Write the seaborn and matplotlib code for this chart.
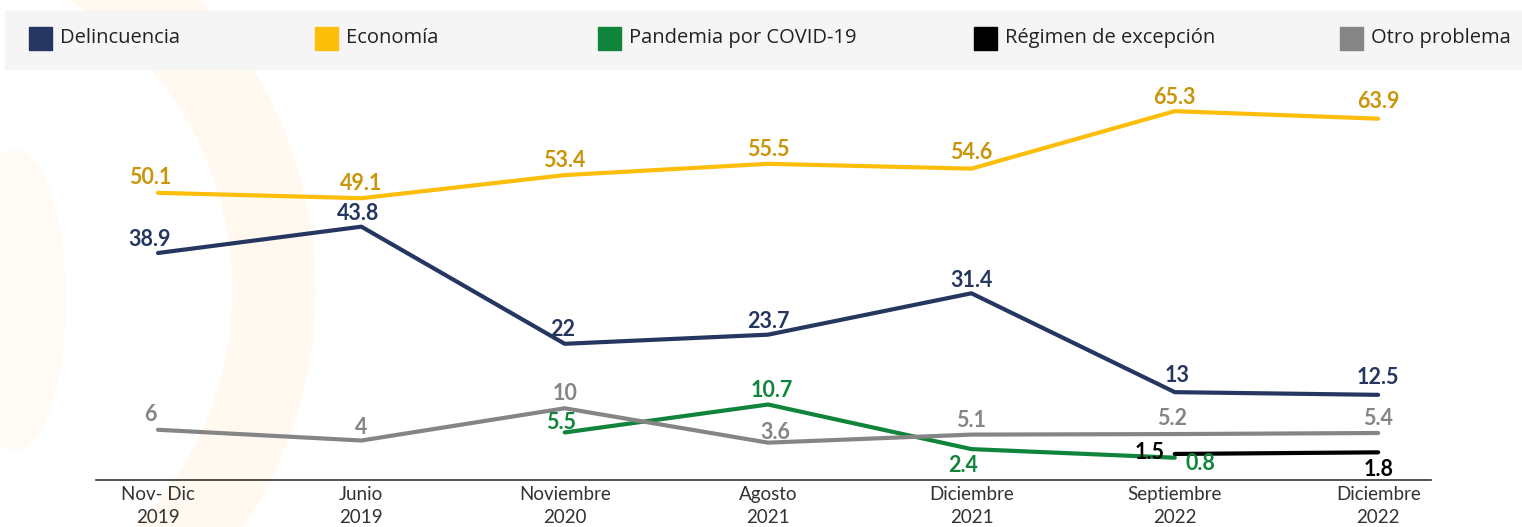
import pandas as pd
import matplotlib
matplotlib.use("Agg")
import matplotlib.pyplot as plt
from matplotlib.patches import Rectangle, Wedge, Ellipse
from matplotlib.transforms import IdentityTransform
import seaborn as sns

# data
periods = ["Nov- Dic\n2019", "Junio\n2019", "Noviembre\n2020", "Agosto\n2021",
           "Diciembre\n2021", "Septiembre\n2022", "Diciembre\n2022"]
delincuencia = [38.9, 43.8, 22, 23.7, 31.4, 13, 12.5]
economia = [50.1, 49.1, 53.4, 55.5, 54.6, 65.3, 63.9]
pandemia = [None, None, 5.5, 10.7, 2.4, 0.8, None]
regimen = [None, None, None, None, None, 1.5, 1.8]
otro = [6, 4, 10, 3.6, 5.1, 5.2, 5.4]
series_names = ["Delincuencia", "Economía", "Pandemia por COVID-19",
                "Régimen de excepción", "Otro problema"]

line_colors = ["#253760", "#FDBE0A", "#10843A", "#000000", "#858585"]
label_colors = ["#253760", "#C9950A", "#10843A", "#000000", "#858585"]

# label offsets in pixels (dx, dy)
offsets = {
    "Delincuencia": [(-8, 14), (-3, 13), (-2, 14), (0, 13), (0, 13), (2, 17), (0, 17)],
    "Economía": [(-8, 15), (0, 15), (0, 15), (0, 14), (0, 16), (0, 14), (0, 17)],
    "Pandemia por COVID-19": [None, None, (-4, 10), (4, 14), (-8, -16), (26, -6), None],
    "Régimen de excepción": [None] * 5 + [(-25, 1), (0, -17)],
    "Otro problema": [(-8, 15), (0, 13), (0, 15), (7, 10), (0, 14), (-3, 16), (0, 14)],
}

all_values = [delincuencia, economia, pandemia, regimen, otro]
rows = []
for name, vals in zip(series_names, all_values):
    for i, v in enumerate(vals):
        if v is not None:
            rows.append({"x": i, "valor": v, "serie": name})
df = pd.DataFrame(rows)

sns.set_style("white")
plt.rcParams["font.family"] = ["Lato", "DejaVu Sans"]

fig = plt.figure(figsize=(15.22, 5.27), dpi=100)
H = 527

# faint watermark behind the chart
fig.patches.append(Wedge((-108, H - 290), 423, -90, 90, width=82,
                         color="#FFF9F0", transform=IdentityTransform(), zorder=-2))
fig.patches.append(Ellipse((15, H - 300), 100, 300, color="#FFFAF3",
                           transform=IdentityTransform(), zorder=-2))

ax = fig.add_axes([96 / 1522, 1 - 480 / 527, (1431 - 96) / 1522, (480 - 80) / 527])
ax.patch.set_alpha(0)

sns.lineplot(data=df, x="x", y="valor", hue="serie", hue_order=series_names,
             palette=dict(zip(series_names, line_colors)), linewidth=3,
             legend=False, ax=ax, sort=True)

for name, vals, col in zip(series_names, all_values, label_colors):
    for i, v in enumerate(vals):
        if v is None:
            continue
        dx, dy = offsets[name][i]
        ax.annotate(f"{v:g}", (i, v), xytext=(dx, dy), textcoords="offset pixels",
                    ha="center", va="center", fontsize=15.5, fontweight="bold",
                    color=col)

ax.set_xlim(-0.305, 6.26)
ax.set_ylim(-3.35, 71.1)
ax.set_xticks(range(len(periods)))
ax.set_xticklabels(periods, fontsize=13.5, color="#333333", linespacing=1.45)
ax.tick_params(axis="x", length=0, pad=4)
ax.set_yticks([])
ax.set_xlabel("")
ax.set_ylabel("")
for s in ["top", "right", "left"]:
    ax.spines[s].set_visible(False)
ax.spines["bottom"].set_color("#333333")
ax.spines["bottom"].set_linewidth(1.2)

# legend strip at the top
fig.patches.append(Rectangle((5, H - 69), 1517, 58, color="#F5F5F5",
                             transform=IdentityTransform(), zorder=1))
legend_x = [29, 315, 598, 974, 1340]
for name, col, lx in zip(series_names, line_colors, legend_x):
    fig.patches.append(Rectangle((lx, H - 50), 23, 23, color=col,
                                 transform=IdentityTransform(), zorder=2))
    fig.text((lx + 31) / 1522, 1 - 38 / 527, name, fontsize=14.5,
             family=["Open Sans", "DejaVu Sans"], color="#222222",
             va="center", ha="left", zorder=3)

fig.savefig("out.png", dpi=100)
